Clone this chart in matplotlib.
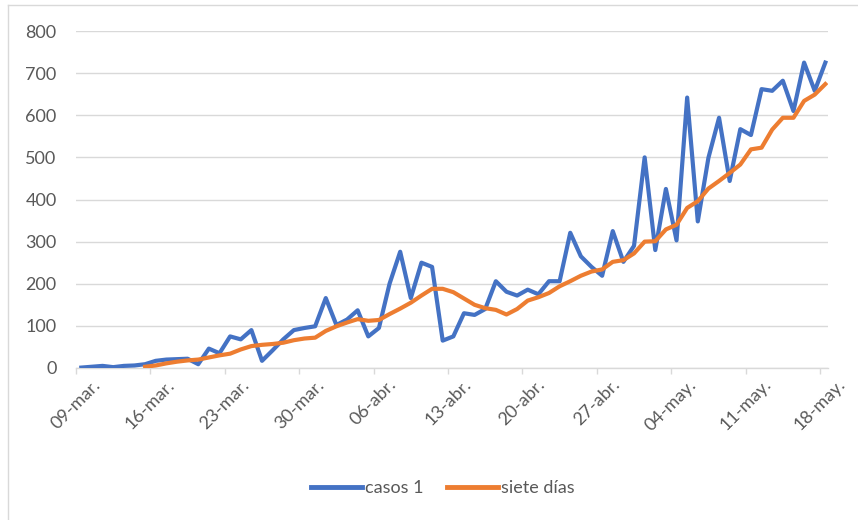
import matplotlib
matplotlib.use("Agg")
import matplotlib.pyplot as plt
from matplotlib.lines import Line2D

plt.rcParams['font.family'] = ['Lato', 'DejaVu Sans']

# daily cases, one value per day from 09-mar to 18-may
casos = [1, 3, 5, 2, 5, 6, 9, 17, 20, 21, 22, 9, 46, 35, 75, 68, 90, 17, 42, 68,
         90, 95, 99, 166, 102, 115, 137, 75, 95, 200, 276, 166, 250, 240, 65, 75,
         130, 126, 140, 206, 181, 172, 186, 175, 206, 206, 321, 265, 240, 219, 325,
         252, 290, 500, 280, 425, 303, 642, 348, 499, 594, 444, 567, 553, 662, 658,
         682, 610, 725, 658, 725]

# seven-day series, starts on the 7th day
siete_inicio = 6
siete = [3, 6, 11, 15, 18, 20, 25, 30, 34, 44, 52, 55, 57, 60, 66, 70, 72, 88, 99,
         108, 116, 112, 114, 128, 141, 155, 172, 188, 188, 180, 165, 150, 142, 138,
         127, 140, 160, 168, 178, 194, 206, 219, 229, 234, 252, 256, 272, 300, 301,
         329, 340, 380, 396, 426, 444, 463, 483, 519, 523, 566, 594, 594, 634, 649,
         674]

tick_labels = ['09-mar.', '16-mar.', '23-mar.', '30-mar.', '06-abr.', '13-abr.',
               '20-abr.', '27-abr.', '04-may.', '11-may.', '18-may.']
y_ticks = [0, 100, 200, 300, 400, 500, 600, 700, 800]

blue = '#4472C4'
orange = '#ED7D31'
txt = '#595959'
grid = '#D9D9D9'

fig = plt.figure(figsize=(8.58, 5.2), dpi=100)
ax = fig.add_axes([76 / 858, 1 - 368 / 520, (828 - 76) / 858, (368 - 31) / 520])

x_casos = list(range(len(casos)))
x_siete = list(range(siete_inicio, siete_inicio + len(siete)))
ax.plot(x_casos, casos, color=blue, lw=3, solid_joinstyle='round', label='casos 1', zorder=3)
ax.plot(x_siete, siete, color=orange, lw=3, solid_joinstyle='round', label='siete días', zorder=4)

ax.set_xlim(-0.5, 70.25)
ax.set_ylim(0, 800)
ax.set_yticks(y_ticks)
ax.set_yticklabels([str(v) for v in y_ticks])
ax.set_xticks([7 * i - 0.5 for i in range(len(tick_labels))])
ax.set_xticklabels(tick_labels, rotation=45, ha='center', va='top')

ax.grid(axis='y', color=grid, lw=1)
ax.set_axisbelow(True)
for s in ['left', 'right', 'top']:
    ax.spines[s].set_visible(False)
ax.spines['bottom'].set_color(grid)
ax.spines['bottom'].set_linewidth(1)
ax.tick_params(axis='y', length=0, pad=14, labelsize=13, labelcolor=txt)
ax.tick_params(axis='x', length=4, width=1, color=grid, pad=2, labelsize=13, labelcolor=txt)

fig.legend(loc='center', bbox_to_anchor=(443 / 858, 1 - 488 / 520), ncol=2, frameon=False,
           fontsize=13, labelcolor=txt, handlelength=2.8, handletextpad=0.2,
           columnspacing=1.3, borderaxespad=0)
for h in fig.legends[0].get_lines():
    h.set_linewidth(3.5)

# chart area border (left and top visible)
fig.add_artist(Line2D([8 / 858, 8 / 858], [0, 1 - 5 / 520], transform=fig.transFigure, color=grid, lw=1))
fig.add_artist(Line2D([8 / 858, 1], [1 - 5 / 520, 1 - 5 / 520], transform=fig.transFigure, color=grid, lw=1))

fig.savefig('out.png', dpi=100)
